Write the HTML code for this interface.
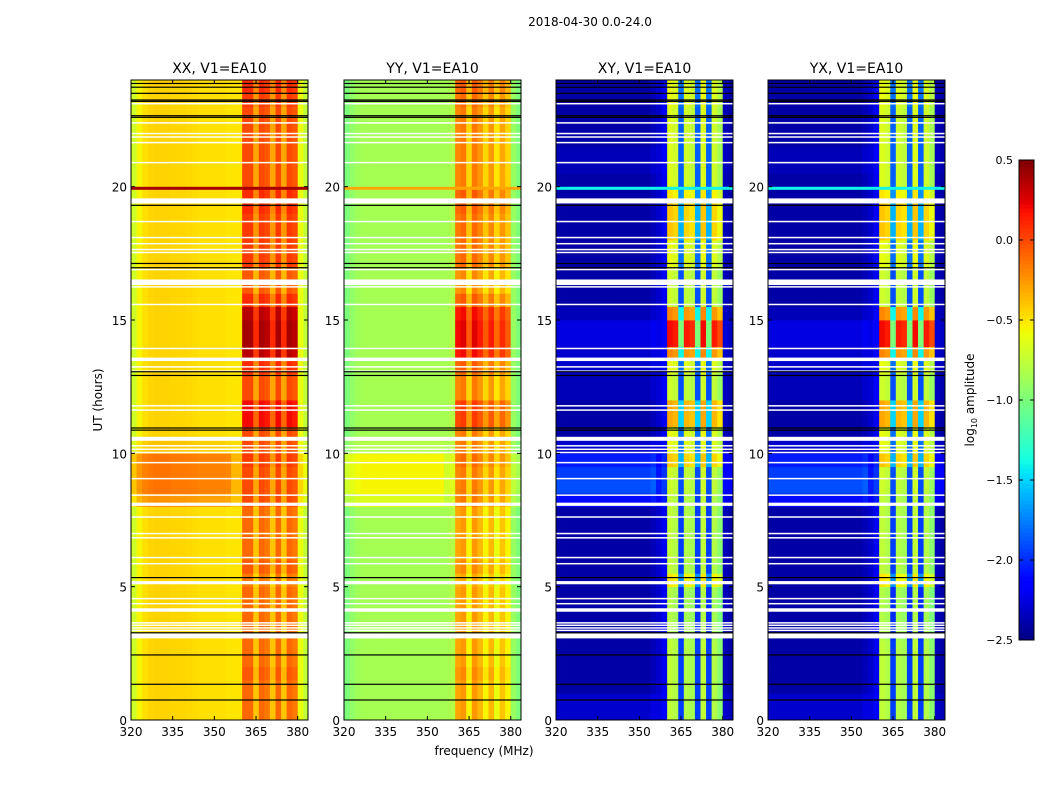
<!DOCTYPE html>
<html><head><meta charset="utf-8"><style>
body{margin:0;background:#fff;}
svg text{font-family:"DejaVu Sans","Liberation Sans",sans-serif;fill:#000;}
</style></head><body>
<svg id="fig" width="1050" height="800" viewBox="0 0 1050 800" xmlns="http://www.w3.org/2000/svg">
<rect width="1050" height="800" fill="#fff"/>
<text x="590" y="26" font-size="12" text-anchor="middle">2018-04-30 0.0-24.0</text>
<text transform="translate(102,400) rotate(-90)" font-size="12" text-anchor="middle">UT (hours)</text>
<text x="484" y="755" font-size="12" text-anchor="middle">frequency (MHz)</text>
<g id="panels"></g>
<g id="cbar"></g>
<text transform="translate(974,400) rotate(-90)" font-size="12" text-anchor="middle">log<tspan font-size="8" dy="3">10</tspan><tspan dy="-3"> amplitude</tspan></text>
</svg>
<script>
// ---- data ----
const panelTitles = ["XX, V1=EA10","YY, V1=EA10","XY, V1=EA10","YX, V1=EA10"];
const panelKind = ["par","par","cross","cross"];
const xTicks = [320,335,350,365,380];
const yTicks = [0,5,10,15,20];
const cbTicks = [0.5,0.0,-0.5,-1.0,-1.5,-2.0,-2.5];
const cbTickLabels = ["0.5","0.0","\u22120.5","\u22121.0","\u22121.5","\u22122.0","\u22122.5"];
// spectra: 32 columns of 2 MHz from 320 to 384
const specXX = [-0.7,-0.55,-0.48,-0.45,-0.44,-0.44,-0.44,-0.45,-0.45,-0.45,-0.46,-0.47,-0.48,-0.48,-0.48,-0.48,-0.48,-0.5,-0.5,-0.5,-0.1,-0.1,-0.4,-0.1,-0.15,-0.4,-0.1,-0.4,-0.1,-0.15,-0.6,-0.75];
const specYY = [-1.0,-0.92,-0.87,-0.85,-0.85,-0.85,-0.85,-0.85,-0.85,-0.85,-0.85,-0.85,-0.85,-0.85,-0.85,-0.85,-0.85,-0.85,-0.85,-0.8,-0.3,-0.25,-0.55,-0.25,-0.35,-0.55,-0.35,-0.6,-0.4,-0.55,-0.9,-1.0];
const specXY = [-2.4,-2.4,-2.4,-2.4,-2.4,-2.4,-2.4,-2.4,-2.4,-2.4,-2.4,-2.4,-2.4,-2.4,-2.4,-2.4,-2.4,-2.35,-2.3,-2.2,-0.8,-0.85,-2.0,-0.85,-0.9,-2.0,-0.8,-2.0,-0.85,-1.0,-2.35,-2.4];
const specYX = [-2.4,-2.4,-2.4,-2.4,-2.4,-2.4,-2.4,-2.4,-2.4,-2.4,-2.4,-2.4,-2.4,-2.4,-2.4,-2.4,-2.4,-2.35,-2.3,-2.2,-0.8,-0.85,-2.0,-0.85,-0.9,-2.0,-0.8,-2.0,-0.85,-1.0,-2.35,-2.4];
// 48 half-hour rows: additive activity inside the 360-380 MHz band
const actPar = [0,0,0,0.05,0,0,0,0,0,0,-0.05,0.05,0,0,0,0,0.1,0.1,0.1,0.15,0.1,0.1,0.3,0.3,0.1,0.1,0.2,0.45,0.5,0.5,0.45,0.2,0.05,0.05,0.15,0.15,0.15,0.15,0.2,0.2,0.1,0.1,0.1,0.1,0.1,0.1,0.15,0.2];
const actCross = [0.05,0.05,0.05,0.05,0.05,0.05,0,0,0,0,0.3,0.05,0.05,0.05,0.05,0.05,0.05,0.1,0.1,0.4,0.2,0.2,0.5,0.5,0.1,0.1,0.2,0.6,1.0,1.0,0.6,0.1,0.1,0.1,0.2,0.2,0.4,0.4,0.4,0.3,0.15,0.15,0.15,0.15,0.15,0.15,0.2,0.2];
// 48 half-hour rows: additive offset outside the band
const bgPar = [0,0,0,0,0,0,0,0,0,0,0,0,0,0,0,0,0.2,0.3,0.3,0.3,0.05,0,0,0,0,0,0,0,0,0,0,0,0,0,0,0,0,0,0,0,0,0,0,0,0,0,0,0];
const bgCross = [0.1,0.1,0,0,0,0,0,0,0,0,0,0,0,0,0,0,0.3,0.5,0.45,0.35,0.1,0,0,0,0.05,0.05,0.1,0.1,0.15,0.15,0.05,0,0,0,0,0,0,0,0,0,0,0.05,0.05,0,0,0,0,0];
const flags = [[3.06,3.25],[3.35,3.39],[3.44,3.48],[3.54,3.58],[3.63,3.67],[4.06,4.19],[4.35,4.39],[4.54,4.58],[5.09,5.21],[5.85,5.89],[6.08,6.12],[6.82,6.86],[6.98,7.02],[7.6,7.64],[8.03,8.15],[8.42,8.46],[9.04,9.08],[9.64,9.68],[10.02,10.06],[10.14,10.18],[10.27,10.31],[10.47,10.62],[11.61,11.65],[11.77,11.81],[13.07,13.11],[13.23,13.27],[13.46,13.59],[13.92,13.96],[15.57,15.61],[16.23,16.27],[16.31,16.52],[16.88,16.92],[17.52,17.56],[17.63,17.67],[17.85,17.89],[18.08,18.12],[18.68,18.72],[19.37,19.56],[20.89,20.93],[21.64,21.68],[21.85,21.89],[21.98,22.02],[22.38,22.42],[23.1,23.14]];
const blackLines = [0.75,1.34,2.44,3.27,5.34,10.87,10.95,12.92,13.06,16.96,17.12,19.3,22.6,22.66,23.2,23.25,23.5,23.73,23.87];
// RFI line near 19.9 h (per panel value)
const rfiHour = 19.92;
const rfiVal = [0.4,-0.3,-1.4,-1.4];
// ---- drawing ----
const NS="http://www.w3.org/2000/svg";
const vmin=-2.5,vmax=0.5;
const panelLeft=[131,344,556,768], pw=177, pTop=80, pBot=720;
function interp(pts,t){for(let i=1;i<pts.length;i++){if(t<=pts[i][0]){const a=pts[i-1],b=pts[i];return a[1]+(b[1]-a[1])*(t-a[0])/(b[0]-a[0]);}}return pts[pts.length-1][1];}
const JR=[[0,0],[0.35,0],[0.66,1],[0.89,1],[1,0.5]];
const JG=[[0,0],[0.125,0],[0.375,1],[0.64,1],[0.91,0],[1,0]];
const JB=[[0,0.5],[0.11,1],[0.34,1],[0.65,0],[1,0]];
function jet(v){let t=(v-vmin)/(vmax-vmin);t=Math.max(0,Math.min(1,t));
 const c=x=>Math.round(255*Math.max(0,Math.min(1,x)));
 return `rgb(${c(interp(JR,t))},${c(interp(JG,t))},${c(interp(JB,t))})`;}
function mk(tag,attrs,parent){const e=document.createElementNS(NS,tag);for(const k in attrs)e.setAttribute(k,attrs[k]);parent.appendChild(e);return e;}
const yS=h=>pBot-(h/24)*(pBot-pTop);
const specs=[specXX,specYY,specXY,specYX];
const g=document.getElementById('panels');
for(let p=0;p<4;p++){
 const L=panelLeft[p];
 const xS=f=>L+(f-320)/63.7*pw;
 const pg=mk('g',{},g);
 
 
 const spec=specs[p];
 const act=panelKind[p]==="par"?actPar:actCross;
 const bg=panelKind[p]==="par"?bgPar:bgCross;
 for(let r=0;r<act.length;r++){
  for(let c=0;c<spec.length;c++){
   const f0=320+c*2, inBand=(f0>=360&&f0<380);
   const v=spec[c]+(inBand?act[r]:bg[r]*(f0<356?1:0.5));
   const x0=xS(f0), x1=Math.min(xS(f0+2),L+pw);
   const cell=mk('rect',{x:x0,y:yS((r+1)/2),width:Math.max(0,x1-x0)+0.4,height:yS(r/2)-yS((r+1)/2)+0.4,fill:jet(v)},pg);
   
   
  }
 }
 const rl=mk('rect',{x:L,y:yS(rfiHour)-2,width:pw,height:3,fill:jet(rfiVal[p])},pg);
 
 
 for(const fl of flags){
  const fr=mk('rect',{x:L,y:yS(fl[1]),width:pw,height:Math.max(1.5,yS(fl[0])-yS(fl[1])),fill:'#fff'},pg);
  
  
 }
 for(const b of blackLines){
  const bl=mk('rect',{x:L,y:yS(b)-0.6,width:pw,height:1.2,fill:'#000'},pg);
  
  
 }
 const fr=mk('rect',{x:L,y:pTop,width:pw,height:pBot-pTop,fill:'none',stroke:'#000','stroke-width':1},pg);
 
 
 const tt=mk('text',{x:L+pw/2,y:73,'font-size':14,'text-anchor':'middle'},pg);tt.textContent=panelTitles[p];
 
 
 for(const xt of xTicks){
  const x=xS(xt);
  mk('line',{x1:x,x2:x,y1:pBot,y2:pBot-4,stroke:'#000'},pg);
  mk('line',{x1:x,x2:x,y1:pTop,y2:pTop+4,stroke:'#000'},pg);
  const t=mk('text',{x:x,y:pBot+16,'font-size':12,'text-anchor':'middle'},pg);t.textContent=xt;
  
  
 }
 for(const yt of yTicks){
  const y=yS(yt);
  mk('line',{x1:L,x2:L+4,y1:y,y2:y,stroke:'#000'},pg);
  mk('line',{x1:L+pw,x2:L+pw-4,y1:y,y2:y,stroke:'#000'},pg);
  const t=mk('text',{x:L-4,y:y+5,'font-size':12,'text-anchor':'end'},pg);t.textContent=yt;
  
  
 }
}
// colorbar
const cb=document.getElementById('cbar');
const cbT=160,cbB=640,cbL=1019,cbW=15;
for(let i=0;i<120;i++){
 const v0=vmin+(vmax-vmin)*i/120;
 const y=cbB-(i+1)*(cbB-cbT)/120;
 const s=mk('rect',{x:cbL,y:y,width:cbW,height:(cbB-cbT)/120+0.5,fill:jet(v0+0.0125)},cb);
 
 
}
mk('rect',{x:cbL,y:cbT,width:cbW,height:cbB-cbT,fill:'none',stroke:'#000'},cb);
cbTicks.forEach((v,i)=>{
 const y=cbB-(v-vmin)/(vmax-vmin)*(cbB-cbT);
 mk('line',{x1:cbL,x2:cbL+4,y1:y,y2:y,stroke:'#000'},cb);
 mk('line',{x1:cbL+cbW,x2:cbL+cbW-4,y1:y,y2:y,stroke:'#000'},cb);
 const t=mk('text',{x:cbL-6,y:y+4,'font-size':11,'text-anchor':'end'},cb);t.textContent=cbTickLabels[i];
 
 
});
</script>
</body></html>
